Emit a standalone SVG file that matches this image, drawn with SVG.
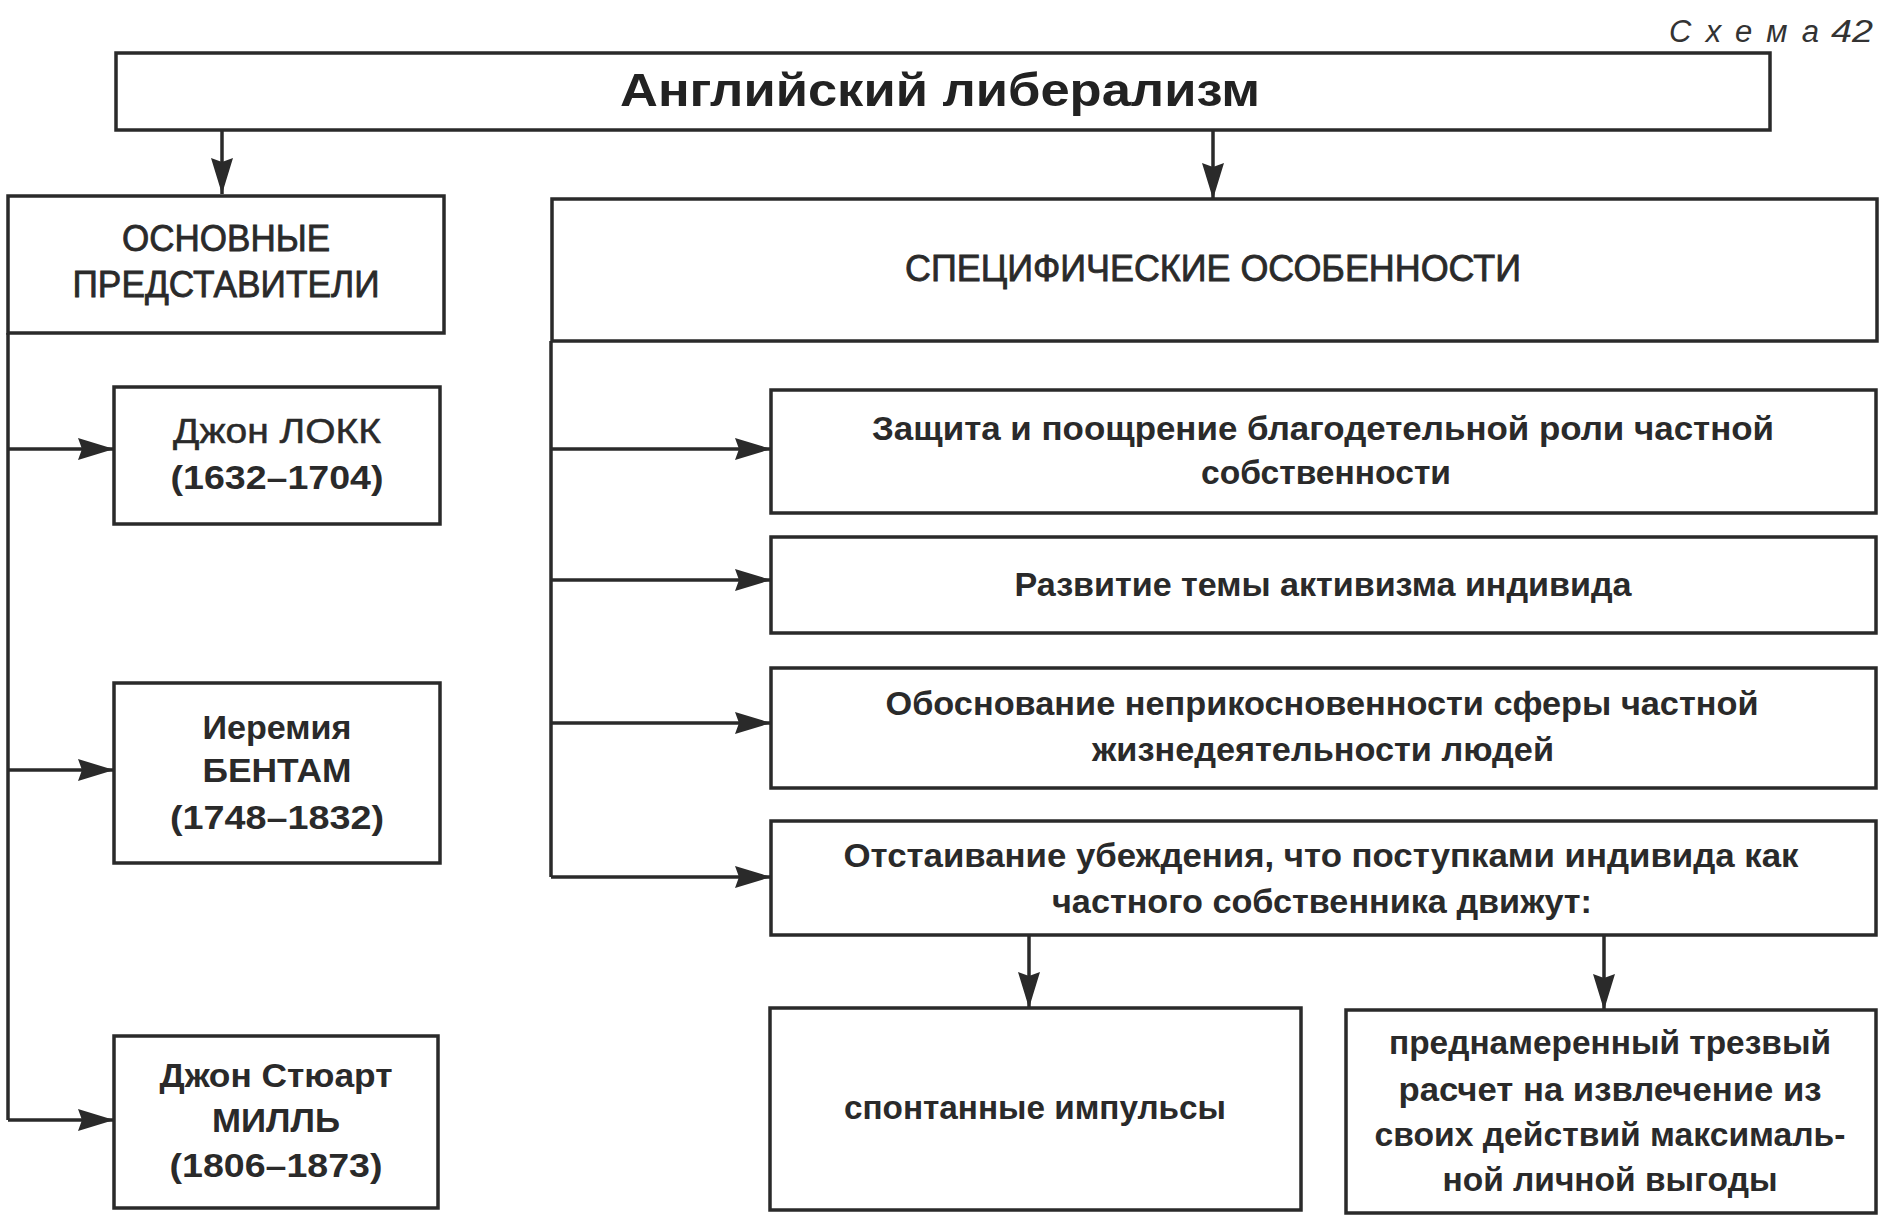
<svg xmlns="http://www.w3.org/2000/svg" width="1883" height="1220" viewBox="0 0 1883 1220">
<defs>
<marker id="ah" markerUnits="userSpaceOnUse" markerWidth="36" markerHeight="22" viewBox="0 0 36 22" refX="36" refY="11" orient="auto">
<path d="M0,0 L36,11 L0,22 L4,11 Z" fill="#2a2a2a"/>
</marker>
<style>
.box{fill:#fff;stroke:#2a2a2a;stroke-width:3.5}
.ln{fill:none;stroke:#2a2a2a;stroke-width:3.5}
.ar{fill:none;stroke:#2a2a2a;stroke-width:3.5;marker-end:url(#ah)}
.t{font-family:"Liberation Sans","DejaVu Sans",sans-serif;font-weight:bold;font-size:33px;fill:#2a2a2a;text-anchor:middle}
.h{font-weight:normal;font-size:36px;stroke:#2a2a2a;stroke-width:0.8}
.n{font-weight:normal;font-size:35px;stroke:#2a2a2a;stroke-width:0.5}
.ti{font-family:"Liberation Sans","DejaVu Sans",sans-serif;font-weight:bold;font-size:46px;fill:#222;text-anchor:middle}
.sc{font-family:"Liberation Sans","DejaVu Sans",sans-serif;font-style:italic;font-size:31px;fill:#333}
</style>
</defs>
<rect width="1883" height="1220" fill="#fff"/>
<text class="sc" x="1669" y="42" textLength="150" lengthAdjust="spacing">Схема</text>
<text class="sc" x="1831" y="42" textLength="42" lengthAdjust="spacingAndGlyphs">42</text>

<g id="connectors">
<line class="ar" x1="222" y1="130" x2="222" y2="194"/>
<line class="ar" x1="1213" y1="130" x2="1213" y2="199"/>
<polyline class="ln" points="8,333 8,1120"/>
<line class="ar" x1="8" y1="449" x2="114" y2="449"/>
<line class="ar" x1="8" y1="770" x2="114" y2="770"/>
<line class="ar" x1="8" y1="1120" x2="114" y2="1120"/>
<polyline class="ln" points="551,341 551,877"/>
<line class="ar" x1="551" y1="449" x2="771" y2="449"/>
<line class="ar" x1="551" y1="580" x2="771" y2="580"/>
<line class="ar" x1="551" y1="723" x2="771" y2="723"/>
<line class="ar" x1="551" y1="877" x2="771" y2="877"/>
<line class="ar" x1="1029" y1="935" x2="1029" y2="1008"/>
<line class="ar" x1="1604" y1="935" x2="1604" y2="1010"/>
</g>

<g id="title">
<rect class="box" x="116" y="53" width="1654" height="77"/>
<text class="ti" x="940" y="106" textLength="640" lengthAdjust="spacingAndGlyphs">Английский либерализм</text>
</g>

<g id="representatives">
<rect class="box" x="8" y="196" width="436" height="137"/>
<text class="t h" x="226" y="251" textLength="208" lengthAdjust="spacingAndGlyphs">ОСНОВНЫЕ</text>
<text class="t h" x="226" y="297" textLength="307" lengthAdjust="spacingAndGlyphs">ПРЕДСТАВИТЕЛИ</text>
</g>

<g id="features">
<rect class="box" x="552" y="199" width="1325" height="142"/>
<text class="t h" x="1213" y="281" textLength="616" lengthAdjust="spacingAndGlyphs">СПЕЦИФИЧЕСКИЕ ОСОБЕННОСТИ</text>
</g>

<g id="locke">
<rect class="box" x="114" y="387" width="326" height="137"/>
<text class="t n" x="277" y="443" textLength="208" lengthAdjust="spacingAndGlyphs">Джон ЛОКК</text>
<text class="t" x="277" y="489" textLength="213" lengthAdjust="spacingAndGlyphs">(1632–1704)</text>
</g>

<g id="bentham">
<rect class="box" x="114" y="683" width="326" height="180"/>
<text class="t" x="277" y="739" textLength="149" lengthAdjust="spacingAndGlyphs">Иеремия</text>
<text class="t" x="277" y="782" textLength="149" lengthAdjust="spacingAndGlyphs">БЕНТАМ</text>
<text class="t" x="277" y="829" textLength="214" lengthAdjust="spacingAndGlyphs">(1748–1832)</text>
</g>

<g id="mill">
<rect class="box" x="114" y="1036" width="324" height="172"/>
<text class="t" x="276" y="1087" textLength="233" lengthAdjust="spacingAndGlyphs">Джон Стюарт</text>
<text class="t" x="276" y="1132" textLength="128" lengthAdjust="spacingAndGlyphs">МИЛЛЬ</text>
<text class="t" x="276" y="1177" textLength="213" lengthAdjust="spacingAndGlyphs">(1806–1873)</text>
</g>

<g id="feature1">
<rect class="box" x="771" y="390" width="1105" height="123"/>
<text class="t" x="1323" y="440" textLength="902" lengthAdjust="spacingAndGlyphs">Защита и поощрение благодетельной роли частной</text>
<text class="t" x="1326" y="484" textLength="250" lengthAdjust="spacingAndGlyphs">собственности</text>
</g>

<g id="feature2">
<rect class="box" x="771" y="537" width="1105" height="96"/>
<text class="t" x="1323" y="596" textLength="617" lengthAdjust="spacingAndGlyphs">Развитие темы активизма индивида</text>
</g>

<g id="feature3">
<rect class="box" x="771" y="668" width="1105" height="120"/>
<text class="t" x="1322" y="715" textLength="873" lengthAdjust="spacingAndGlyphs">Обоснование неприкосновенности сферы частной</text>
<text class="t" x="1323" y="761" textLength="462" lengthAdjust="spacingAndGlyphs">жизнедеятельности людей</text>
</g>

<g id="feature4">
<rect class="box" x="771" y="821" width="1105" height="114"/>
<text class="t" x="1321" y="867" textLength="955" lengthAdjust="spacingAndGlyphs">Отстаивание убеждения, что поступками индивида как</text>
<text class="t" x="1322" y="913" textLength="540" lengthAdjust="spacingAndGlyphs">частного собственника движут:</text>
</g>

<g id="impulses">
<rect class="box" x="770" y="1008" width="531" height="202"/>
<text class="t" x="1035" y="1119" textLength="382" lengthAdjust="spacingAndGlyphs">спонтанные импульсы</text>
</g>

<g id="calculation">
<rect class="box" x="1346" y="1010" width="530" height="203"/>
<text class="t" x="1610" y="1054" textLength="442" lengthAdjust="spacingAndGlyphs">преднамеренный трезвый</text>
<text class="t" x="1610" y="1101" textLength="423" lengthAdjust="spacingAndGlyphs">расчет на извлечение из</text>
<text class="t" x="1610" y="1146" textLength="471" lengthAdjust="spacingAndGlyphs">своих действий максималь-</text>
<text class="t" x="1610" y="1191" textLength="335" lengthAdjust="spacingAndGlyphs">ной личной выгоды</text>
</g>
</svg>
